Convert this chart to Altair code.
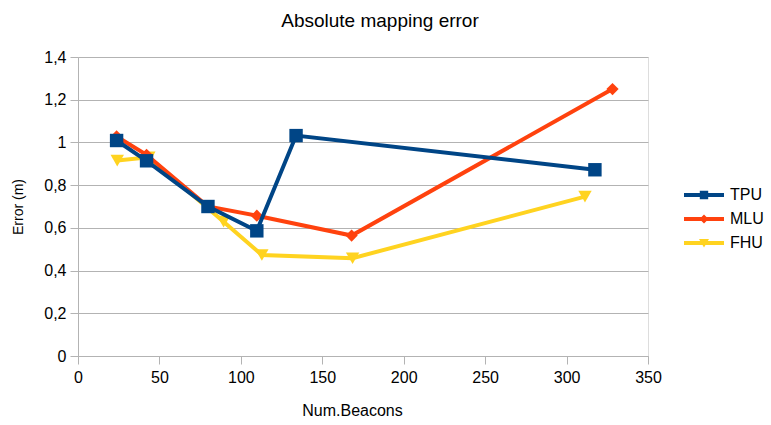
import altair as alt
import pandas as pd

series = ["TPU", "MLU", "FHU"]
colors = ["#004586", "#ff420e", "#ffd320"]

tpu_x = [23.7, 42.1, 79.8, 109.8, 133.9, 317.4]
tpu_y = [1.009, 0.914, 0.700, 0.586, 1.032, 0.872]
mlu_x = [23.7, 42.1, 79.8, 109.8, 168.0, 328.2]
mlu_y = [1.028, 0.942, 0.700, 0.657, 0.564, 1.250]
fhu_x = [24.1, 43.5, 89.4, 112.9, 168.6, 311.3]
fhu_y = [0.915, 0.930, 0.629, 0.473, 0.458, 0.746]

x_ticks = [0, 50, 100, 150, 200, 250, 300, 350]
y_ticks = [0, 0.2, 0.4, 0.6, 0.8, 1.0, 1.2, 1.4]

# legend symbols: line segment + marker, drawn as custom paths
legend_paths = [
    "M-2,-0.2H2V0.2H-2Z M-0.42,-0.42H0.42V0.42H-0.42Z",
    "M-2,-0.2H2V0.2H-2Z M0,-0.45L0.45,0L0,0.45L-0.45,0Z",
    "M-2,-0.2H2V0.2H-2Z M-0.5,-0.4L0.5,-0.4L0,0.45Z",
]

frames = []
for name, xs, ys in [("TPU", tpu_x, tpu_y), ("MLU", mlu_x, mlu_y), ("FHU", fhu_x, fhu_y)]:
    frames.append(pd.DataFrame({"series": name, "x": xs, "y": ys, "order": range(len(xs))}))
df = pd.concat(frames, ignore_index=True)

FONT = "Liberation Sans"
GRID = "#b3b3b3"

x_enc = alt.X(
    "x:Q",
    scale=alt.Scale(domain=[0, 350], nice=False, zero=False),
    axis=alt.Axis(
        values=x_ticks, title="Num.Beacons", grid=False, domainColor=GRID,
        tickColor=GRID, tickSize=8, labelPadding=5, labelFontSize=16,
        labelColor="#000000", titleFontSize=16, titleFontWeight="normal",
        titleColor="#000000", titlePadding=17, labelFont=FONT, titleFont=FONT,
        labelFlush=False, titleX=274,
    ),
)
y_enc = alt.Y(
    "y:Q",
    scale=alt.Scale(domain=[0, 1.4], nice=False),
    axis=alt.Axis(
        values=y_ticks, title="Error (m)", grid=True, gridColor=GRID,
        domainColor=GRID, tickColor=GRID, tickSize=8, labelPadding=4,
        labelFontSize=16, labelColor="#000000", titleFontSize=14,
        titleFontWeight="normal", titleColor="#000000", titlePadding=18,
        labelFont=FONT, titleFont=FONT, labelFlush=False,
        labelExpr="replace(format(datum.value, '.2~f'), '.', ',')",
    ),
)

color_of = dict(zip(series, colors))
layers = []
for name, shape, size in [("FHU", "triangle-down", 180), ("MLU", "diamond", 150), ("TPU", "square", 180)]:
    sub = df[df["series"] == name]
    base = alt.Chart(sub).encode(x=x_enc, y=y_enc)
    layers.append(base.mark_line(strokeWidth=4, color=color_of[name]).encode(order="order:Q"))
    layers.append(base.mark_point(shape=shape, filled=True, size=size, opacity=1, color=color_of[name]))

leg = dict(
    title=None, orient="none", legendX=616, legendY=128, padding=0,
    labelFontSize=16, labelFont=FONT, labelColor="#000000",
    labelOffset=16, rowPadding=6, symbolSize=400, symbolStrokeWidth=0,
    symbolOpacity=1,
)

legend_layer = alt.Chart(df).transform_filter("datum.x < 0").mark_point(
    filled=True, opacity=1, size=400
).encode(
    x=x_enc, y=y_enc,
    color=alt.Color("series:N", scale=alt.Scale(domain=series, range=colors), legend=alt.Legend(**leg)),
    shape=alt.Shape("series:N", scale=alt.Scale(domain=series, range=legend_paths), legend=alt.Legend(**leg)),
)

chart = alt.layer(*layers, legend_layer).properties(
    width=570,
    height=299,
    autosize=alt.AutoSizeParams(type="none"),
    padding={"left": 78, "top": 57, "right": 123, "bottom": 69},
    title=alt.Title(
        "Absolute mapping error", fontSize=19, font=FONT, fontWeight="normal",
        color="#000000", anchor="middle", dx=17, offset=18,
    ),
).configure_view(stroke=GRID, strokeWidth=1).configure(background="white")

chart.save("out.html", embed_options={"renderer": "svg", "actions": False})
